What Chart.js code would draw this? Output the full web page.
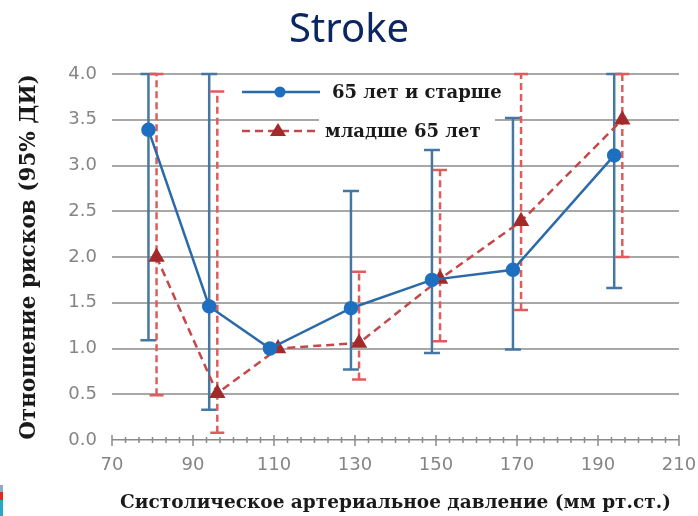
<!DOCTYPE html>
<html lang="ru">
<head>
  <meta charset="UTF-8">
  <title>Stroke</title>
  <script src="https://cdn.jsdelivr.net/npm/chart.js"></script>
  <style>
    body { margin: 0; background: #fff; }
    #wrap { position: relative; width: 698px; height: 516px; }
    .edge { position: absolute; left: 0; width: 3px; }
  </style>
</head>
<body>
  <div id="wrap">
    <canvas id="chart" width="698" height="516"></canvas>
    <div class="edge" style="top:485px;height:7px;background:#8fa9c9"></div>
    <div class="edge" style="top:492px;height:8px;background:#e8261f"></div>
    <div class="edge" style="top:500px;height:16px;background:#2aa6c9"></div>
  </div>

  <script>
    // 65 лет и старше
    const oldX  = [79, 94, 109, 129, 149, 169, 194];
    const oldHR = [3.39, 1.46, 1.0, 1.44, 1.75, 1.86, 3.11];
    const oldLo = [1.09, 0.33, null, 0.77, 0.95, 0.99, 1.66];
    const oldHi = [4.0, 4.0, null, 2.72, 3.17, 3.52, 4.0];

    // младше 65 лет
    const youngX  = [81, 96, 111, 131, 151, 171, 196];
    const youngHR = [2.0, 0.51, 1.0, 1.06, 1.76, 2.39, 3.5];
    const youngLo = [0.49, 0.08, null, 0.66, 1.08, 1.42, 2.0];
    const youngHi = [4.0, 3.81, null, 1.84, 2.95, 4.0, 4.0];

    const legendLabels = ['65 лет и старше', 'младше 65 лет'];
    const xTicks = [70, 90, 110, 130, 150, 170, 190, 210];

    const BLUE = '#2b6aa8';
    const BLUE_PT = '#1f6fc0';
    const BLUE_ERR = '#4677a3';
    const RED = '#c4484a';
    const RED_PT = '#a3292b';
    const RED_ERR = '#e05c5c';
    const SERIF = '"DejaVu Serif", "Liberation Serif", serif';

    const toPoints = (xs, ys) => xs.map((x, i) => ({ x: x, y: ys[i] }));

    // error bars, drawn under the lines
    const errorBars = {
      id: 'errorBars',
      beforeDatasetsDraw(chart) {
        const { ctx, scales: { x, y } } = chart;
        const sets = [
          { xs: oldX, lo: oldLo, hi: oldHi, color: BLUE_ERR, dash: [], cap: 8 },
          { xs: youngX, lo: youngLo, hi: youngHi, color: RED_ERR, dash: [7, 4], cap: 7 }
        ];
        ctx.save();
        sets.forEach(s => {
          ctx.strokeStyle = s.color;
          ctx.lineWidth = 2.5;
          s.xs.forEach((v, i) => {
            if (s.lo[i] == null) return;
            const px = x.getPixelForValue(v);
            const y1 = y.getPixelForValue(s.lo[i]);
            const y2 = y.getPixelForValue(s.hi[i]);
            ctx.setLineDash(s.dash);
            ctx.beginPath();
            ctx.moveTo(px, y1);
            ctx.lineTo(px, y2);
            ctx.stroke();
            ctx.setLineDash([]);
            ctx.beginPath();
            ctx.moveTo(px - s.cap, y1); ctx.lineTo(px + s.cap, y1);
            ctx.moveTo(px - s.cap, y2); ctx.lineTo(px + s.cap, y2);
            ctx.stroke();
          });
        });
        ctx.restore();
      }
    };

    // axis ticks crossing the x axis line
    const axisTicks = {
      id: 'axisTicks',
      afterDraw(chart) {
        const { ctx, scales: { x, y } } = chart;
        const y0 = y.getPixelForValue(0);
        ctx.save();
        ctx.strokeStyle = '#8a8a8a';
        ctx.lineWidth = 1.5;
        for (let i = 0; i < xTicks.length; i++) {
          const px = x.getPixelForValue(xTicks[i]);
          ctx.beginPath();
          ctx.moveTo(px, y0 - 5); ctx.lineTo(px, y0 + 6);
          ctx.stroke();
          if (i < xTicks.length - 1) {
            const step = (xTicks[i + 1] - xTicks[i]) / 6;
            for (let k = 1; k < 6; k++) {
              const mx = x.getPixelForValue(xTicks[i] + k * step);
              ctx.beginPath();
              ctx.moveTo(mx, y0 - 3); ctx.lineTo(mx, y0 + 3);
              ctx.stroke();
            }
          }
        }
        ctx.restore();
      }
    };

    // legend inside plot area + page title centred on the canvas
    const innerLegend = {
      id: 'innerLegend',
      afterDraw(chart) {
        const { ctx } = chart;
        ctx.save();
        ctx.fillStyle = '#0b2663';
        ctx.font = '40px "Noto Sans", "Open Sans", sans-serif';
        ctx.textAlign = 'center';
        ctx.textBaseline = 'alphabetic';
        ctx.fillText('Stroke', chart.width / 2, 42);
        ctx.textAlign = 'left';

        const rows = [
          { y: 92, color: BLUE, pt: BLUE_PT, dash: [], shape: 'circle', text: legendLabels[0], tx: 332 },
          { y: 131, color: RED, pt: RED_PT, dash: [8, 5], shape: 'triangle', text: legendLabels[1], tx: 325 }
        ];
        ctx.fillStyle = '#fff';
        ctx.fillRect(319, 108, 176, 36);
        rows.forEach(r => {
          ctx.strokeStyle = r.color;
          ctx.lineWidth = 2.5;
          ctx.setLineDash(r.dash);
          ctx.beginPath();
          ctx.moveTo(242, r.y); ctx.lineTo(320, r.y);
          ctx.stroke();
          ctx.setLineDash([]);
          ctx.fillStyle = r.pt;
          ctx.beginPath();
          if (r.shape === 'circle') {
            ctx.arc(280, r.y, 5.5, 0, Math.PI * 2);
          } else {
            ctx.moveTo(278, r.y - 8); ctx.lineTo(286, r.y + 5); ctx.lineTo(270, r.y + 5);
            ctx.closePath();
          }
          ctx.fill();
          ctx.fillStyle = '#1a1a1a';
          ctx.font = 'bold 18px ' + SERIF;
          ctx.textBaseline = 'middle';
          ctx.fillText(r.text, r.tx, r.y + 1);
        });
        ctx.restore();
      }
    };

    new Chart(document.getElementById('chart'), {
      type: 'scatter',
      data: {
        datasets: [
          {
            label: legendLabels[0],
            data: toPoints(oldX, oldHR),
            showLine: true,
            borderColor: BLUE,
            borderWidth: 2.5,
            pointBackgroundColor: BLUE_PT,
            pointBorderColor: BLUE_PT,
            pointRadius: 6,
            pointStyle: 'circle'
          },
          {
            label: legendLabels[1],
            data: toPoints(youngX, youngHR),
            showLine: true,
            borderColor: RED,
            borderWidth: 2.5,
            borderDash: [8, 5],
            pointBackgroundColor: RED_PT,
            pointBorderColor: RED_PT,
            pointRadius: 7,
            pointStyle: 'triangle'
          }
        ]
      },
      options: {
        responsive: false,
        animation: false,
        layout: { padding: { left: 0, right: 19, top: 74, bottom: 0 } },
        plugins: {
          legend: { display: false },
          tooltip: { enabled: false },
          title: { display: false }
        },
        scales: {
          x: {
            type: 'linear',
            min: 70,
            max: 210,
            afterBuildTicks: s => { s.ticks = xTicks.map(v => ({ value: v })); },
            afterFit: s => { s.height = 76; s.paddingRight = 0; s.paddingLeft = 0; },
            grid: { display: false, drawTicks: false },
            border: { display: false },
            ticks: {
              color: '#858585',
              padding: 15,
              font: { family: '"DejaVu Sans", "Liberation Sans", sans-serif', size: 18 }
            },
            title: {
              display: true,
              text: 'Систолическое артериальное давление (мм рт.ст.)',
              color: '#1a1a1a',
              font: { family: SERIF, size: 18.5, weight: 'bold' },
              padding: { top: 0, bottom: 2 }
            }
          },
          y: {
            min: 0,
            max: 4,
            afterFit: s => { s.width = 112; s.paddingTop = 0; s.paddingBottom = 0; },
            ticks: {
              stepSize: 0.5,
              color: '#858585',
              padding: 15,
              font: { family: '"DejaVu Sans", "Liberation Sans", sans-serif', size: 18 },
              callback: v => v.toFixed(1)
            },
            grid: {
              drawTicks: false,
              color: c => c.tick.value === 0 ? '#8a8a8a' : '#a8a8a8',
              lineWidth: c => c.tick.value === 0 ? 1.5 : 2
            },
            border: { display: false },
            title: {
              display: true,
              text: 'Отношение рисков (95% ДИ)',
              color: '#1a1a1a',
              font: { family: SERIF, size: 21.5, weight: 'bold' },
              padding: { top: 17, bottom: 0 }
            }
          }
        }
      },
      plugins: [errorBars, axisTicks, innerLegend]
    });
  </script>
</body>
</html>
